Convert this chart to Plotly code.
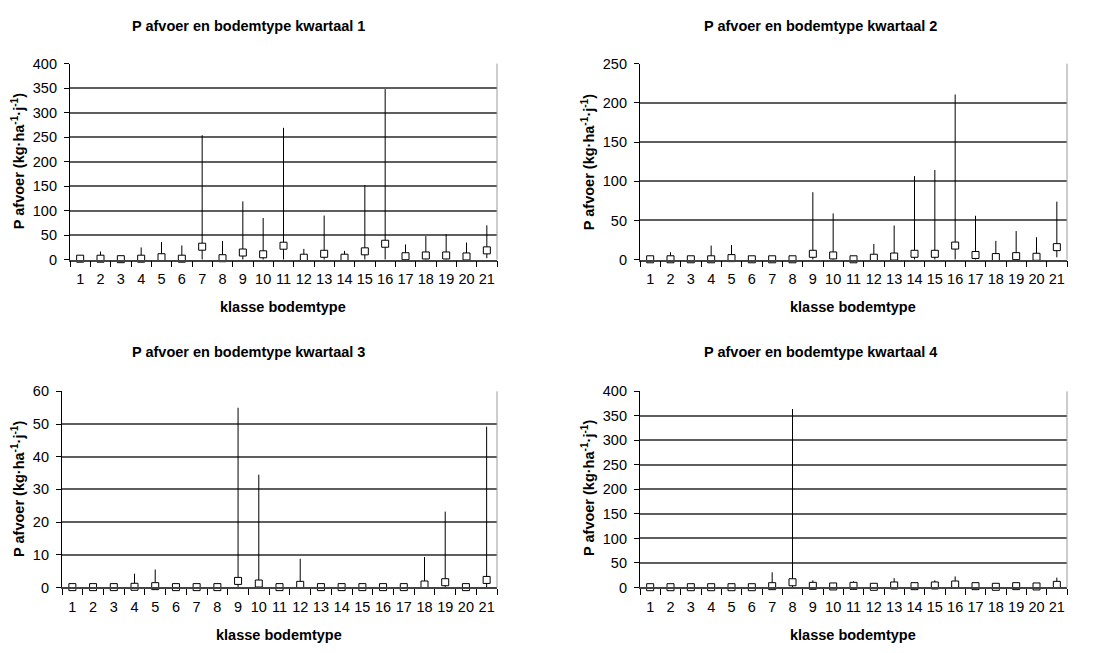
import plotly.graph_objects as go

klasse = [str(i) for i in range(1, 22)]

# kwartaal 1
q1_mid = [2, 2, 1, 2, 5, 2, 26.5, 3, 14.6, 11, 28.5, 4, 12, 4, 17, 32.5, 7, 8.6, 8.6, 6.6, 19]
q1_max = [4, 16.6, 2, 25, 36, 29, 254, 38, 119, 85, 269, 22, 90, 18, 152, 348, 31, 48, 52, 35, 70]
q1_min = [0, 0, 0, 0, 0, 0, 0, 0, 0, 0, 0, 0, 0, 0, 0, 0, 0, 0, 0, 0, 3]

# kwartaal 2
q2_mid = [0.5, 0.5, 0.5, 0.5, 2, 0.5, 0.5, 0.5, 7.5, 5.4, 0.5, 2.5, 4, 7.5, 7.5, 18, 6, 3.3, 4.5, 3.7, 16]
q2_max = [1, 9.5, 1, 18, 18.7, 1, 1, 1, 86, 59, 1, 20, 43.5, 106.5, 114.4, 210.6, 56, 24, 36.5, 28.6, 74]
q2_min = [0, 0, 0, 0, 0, 0, 0, 0, 0, 0, 0, 0, 0, 0, 0, 0, 0, 0, 0, 0, 3]

# kwartaal 3
q3_mid = [0.1, 0.1, 0.1, 0.2, 0.4, 0.1, 0.1, 0.1, 2.0, 1.2, 0.1, 0.8, 0.1, 0.1, 0.1, 0.1, 0.1, 0.9, 1.6, 0.1, 2.3]
q3_max = [0.2, 0.2, 0.2, 4.2, 5.5, 0.2, 0.2, 0.2, 55, 34.5, 0.2, 8.8, 0.2, 0.2, 0.2, 0.2, 0.2, 9.3, 23.2, 0.2, 49.2]
q3_min = [0, 0, 0, 0, 0, 0, 0, 0, 0, 0, 0, 0, 0, 0, 0, 0, 0, 0, 0, 0, 0]

# kwartaal 4
q4_mid = [0.5, 0.5, 0.5, 0.5, 0.5, 0.5, 2.6, 10.6, 3.3, 2, 3.3, 1.3, 4, 2.6, 4, 6, 2.6, 1.3, 2.6, 2, 5.3]
q4_max = [1, 1, 1, 1, 1, 1, 31, 364, 14.6, 5, 12.6, 2, 19, 8, 14.6, 22.5, 8, 2, 6.6, 3, 20]
q4_min = [0, 0, 0, 0, 0, 0, 0, 0, 0, 0, 0, 0, 0, 0, 0, 0, 0, 0, 0, 0, 0]

titles = ["P afvoer en bodemtype kwartaal 1", "P afvoer en bodemtype kwartaal 2",
          "P afvoer en bodemtype kwartaal 3", "P afvoer en bodemtype kwartaal 4"]
y_ranges = [400, 250, 60, 400]
y_dticks = [50, 50, 10, 50]
x_title = "klasse bodemtype"
y_title = "P afvoer (kg·ha<sup>-1</sup>·j<sup>-1</sup>)"

W, H = 1109, 653
# plot areas in pixels: (left, right, top, bottom)
areas = [(70, 497, 57, 258), (640, 1067, 57, 258), (62, 497, 393, 594), (640, 1067, 393, 594)]
title_pos = [(248, 18), (820, 18), (248, 353), (820, 353)]
xtitle_pos = [(283, 307), (853, 307), (279, 643), (853, 643)]
ytitle_pos = [(18, 157), (588, 158), (18, 493), (588, 492)]

FONT = "Liberation Sans, Arial, sans-serif"
data = [(q1_mid, q1_max, q1_min), (q2_mid, q2_max, q2_min),
        (q3_mid, q3_max, q3_min), (q4_mid, q4_max, q4_min)]

fig = go.Figure()
annotations = []
shapes = []
for i, (mid, mx, mn) in enumerate(data):
    xn = "x" if i == 0 else f"x{i+1}"
    yn = "y" if i == 0 else f"y{i+1}"
    fig.add_trace(go.Scatter(
        x=klasse, y=mid, mode="markers", xaxis=xn, yaxis=yn, cliponaxis=False,
        marker=dict(symbol="square", size=7, color="white", line=dict(color="black", width=1)),
        error_y=dict(type="data", symmetric=False,
                     array=[a - b for a, b in zip(mx, mid)],
                     arrayminus=[b - c for b, c in zip(mid, mn)],
                     width=0, thickness=1, color="black"),
        showlegend=False, hoverinfo="skip"))
    l, r, t, b = areas[i]
    xkey = "xaxis" if i == 0 else f"xaxis{i+1}"
    ykey = "yaxis" if i == 0 else f"yaxis{i+1}"
    fig.layout[xkey] = dict(
        domain=[l / W, r / W], anchor=yn, type="category", tickson="boundaries",
        ticks="outside", ticklen=6, tickcolor="black", tickwidth=1,
        showline=True, linecolor="#444", linewidth=1.5, showgrid=False,
        tickangle=0,
        tickfont=dict(family=FONT, size=14.5, color="black"), ticklabelstandoff=5,
        range=[-0.5, 20.5], fixedrange=True)
    fig.layout[ykey] = dict(
        domain=[1 - b / H, 1 - t / H], anchor=xn, range=[0, y_ranges[i]], dtick=y_dticks[i],
        ticks="outside", ticklen=5, tickcolor="black", tickwidth=1,
        showline=True, linecolor="black", linewidth=1.2,
        showgrid=True, gridcolor="#5e5e5e", gridwidth=1.5, zeroline=False,
        tickfont=dict(family=FONT, size=14.5, color="black"), ticklabelstandoff=4,
        fixedrange=True)
    # right border
    shapes.append(dict(type="line", xref="paper", yref="paper",
                       x0=r / W, x1=r / W, y0=1 - b / H, y1=1 - t / H,
                       line=dict(color="#9a9a9a", width=1)))
    tx, ty = title_pos[i]
    annotations.append(dict(text="<b>" + titles[i] + "</b>", x=tx / W, y=1 - ty / H,
                            xref="paper", yref="paper", showarrow=False,
                            xanchor="center", yanchor="middle",
                            font=dict(family=FONT, size=14.5, color="black")))
    ax, ay = xtitle_pos[i]
    annotations.append(dict(text="<b>" + x_title + "</b>", x=ax / W, y=1 - ay / H,
                            xref="paper", yref="paper", showarrow=False,
                            xanchor="center", yanchor="middle",
                            font=dict(family=FONT, size=14.5, color="black")))
    yx, yy = ytitle_pos[i]
    annotations.append(dict(text="<b>" + y_title + "</b>", x=yx / W, y=1 - yy / H,
                            xref="paper", yref="paper", showarrow=False, textangle=-90,
                            xanchor="center", yanchor="middle",
                            font=dict(family=FONT, size=14.5, color="black")))

fig.update_layout(width=W, height=H, margin=dict(l=0, r=0, t=0, b=0),
                  paper_bgcolor="white", plot_bgcolor="white",
                  annotations=annotations, shapes=shapes)
fig.write_html("out.html", config={"displayModeBar": False})
